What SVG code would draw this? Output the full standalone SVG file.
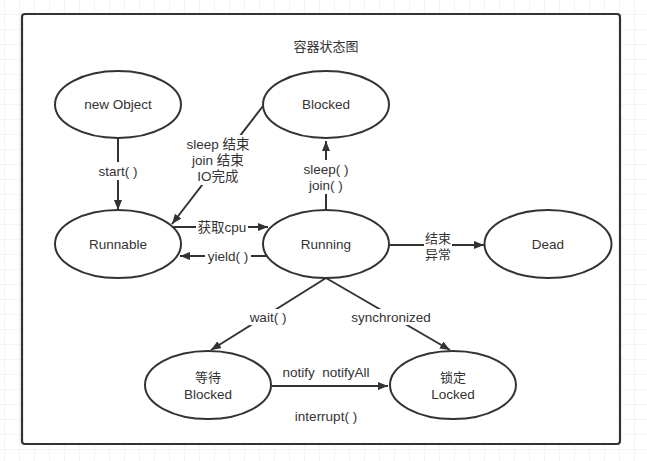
<svg xmlns="http://www.w3.org/2000/svg" width="647" height="461" viewBox="0 0 647 461">
<style>
.node ellipse{fill:#fff;stroke:#333;stroke-width:2}
text{font-family:"Liberation Sans","Noto Sans CJK SC",sans-serif;font-size:13.5px;fill:#333;text-anchor:middle}
.cjk{font-size:13px}
.edge{fill:none;stroke:#333;stroke-width:2;marker-end:url(#arr)}
.bg{fill:#fff}
</style>
<defs>
<pattern id="grid" patternUnits="userSpaceOnUse" x="4" y="14" width="15" height="15">
<path d="M0,0 H15 M0,0 V15" fill="none" stroke="#e9e9e9" stroke-width="1"/>
</pattern>
<marker id="arr" markerUnits="userSpaceOnUse" markerWidth="12" markerHeight="10" refX="10" refY="4" orient="auto">
<path d="M0,0 L10,4 L0,8 Z" fill="#333"/>
</marker>
</defs>
<rect width="647" height="461" fill="#fff"/>
<rect width="647" height="461" fill="url(#grid)"/>
<rect x="22" y="14" width="598" height="430" rx="3" fill="#fff" stroke="#333" stroke-width="2.2"/>
<text class="cjk" x="326" y="51">容器状态图</text>

<g id="connectors">
<path class="edge" d="M118,138.5 L118,210"/>
<rect class="bg" x="96" y="162" width="44" height="18"/>
<text x="118" y="175.5">start( )</text>

<path class="edge" d="M263,106 L172,224"/>
<rect class="bg" x="184" y="135" width="68" height="50"/>
<text x="218" y="148.5">sleep 结束</text>
<text x="218" y="164.5">join 结束</text>
<text x="218" y="180.5">IO完成</text>

<path class="edge" d="M173,227 L268,227"/>
<rect class="bg" x="196" y="219" width="52" height="16"/>
<text x="222" y="231.5">获取cpu</text>

<path class="edge" d="M267,256 L180,256"/>
<rect class="bg" x="205" y="248" width="46" height="16"/>
<text x="228" y="260.5">yield( )</text>

<path class="edge" d="M326,210 L326,141"/>
<rect class="bg" x="302" y="160" width="48" height="34"/>
<text x="326" y="173.5">sleep( )</text>
<text x="326" y="189.5">join( )</text>

<path class="edge" d="M389,245 L484,245"/>
<rect class="bg" x="424" y="230" width="28" height="32"/>
<text class="cjk" x="438" y="242.5">结束</text>
<text class="cjk" x="438" y="258.5">异常</text>

<path class="edge" d="M326,278 L211,350"/>
<rect class="bg" x="246" y="309" width="45" height="16"/>
<text x="268" y="321.5">wait( )</text>

<path class="edge" d="M326,278 L450,350"/>
<rect class="bg" x="348" y="309" width="86" height="16"/>
<text x="391" y="321.5">synchronized</text>

<path class="edge" d="M271.5,386 L388,386"/>
<text x="326" y="376.5" xml:space="preserve">notify  notifyAll</text>
<text x="326" y="420.5">interrupt( )</text>
</g>

<g id="new-object" class="node"><ellipse cx="118" cy="104.5" rx="63" ry="33.5"/><text x="118" y="109">new Object</text></g>
<g id="blocked" class="node"><ellipse cx="326" cy="104.5" rx="63" ry="33.5"/><text x="326" y="109">Blocked</text></g>
<g id="runnable" class="node"><ellipse cx="118" cy="244" rx="63" ry="34"/><text x="118" y="249">Runnable</text></g>
<g id="running" class="node"><ellipse cx="326" cy="244" rx="63" ry="34"/><text x="326" y="249">Running</text></g>
<g id="dead" class="node"><ellipse cx="548" cy="244" rx="63.5" ry="34"/><text x="548" y="249">Dead</text></g>
<g id="waiting" class="node"><ellipse cx="208" cy="385" rx="63" ry="34"/><text class="cjk" x="208" y="382">等待</text><text x="208" y="398.5">Blocked</text></g>
<g id="locked" class="node"><ellipse cx="453" cy="385" rx="63" ry="34"/><text class="cjk" x="453" y="382">锁定</text><text x="453" y="398.5">Locked</text></g>
</svg>
